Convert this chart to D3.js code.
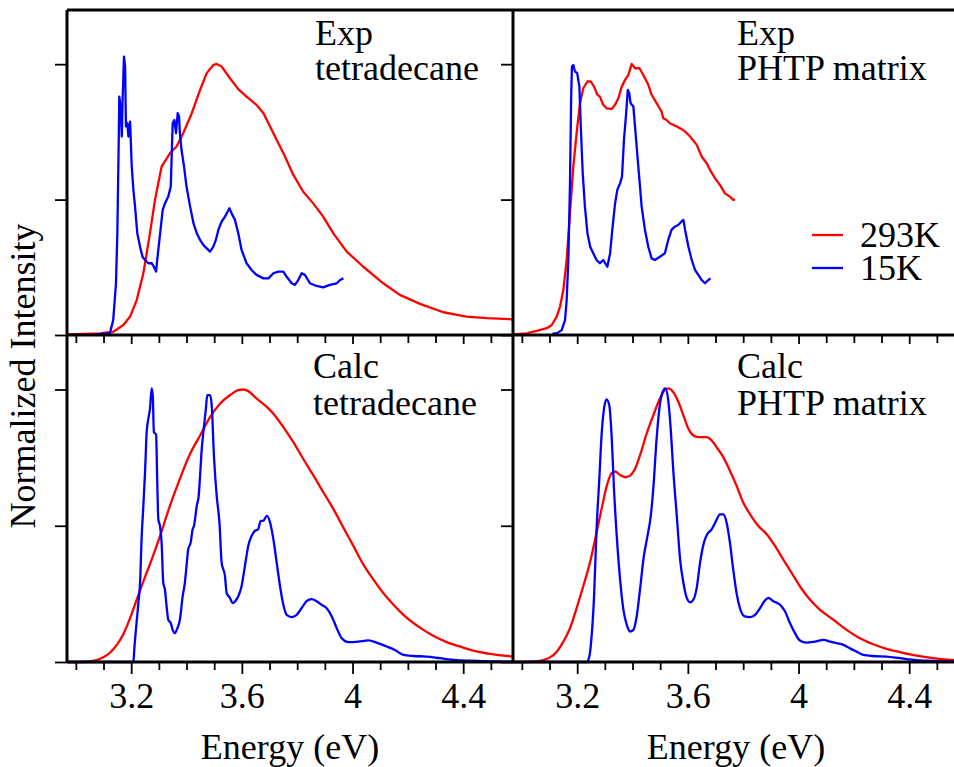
<!DOCTYPE html>
<html>
<head>
<meta charset="utf-8">
<script src="https://cdn.jsdelivr.net/npm/d3@7"></script>
<style>
  html, body { margin: 0; padding: 0; background: #fff; }
  svg { display: block; }
</style>
</head>
<body>
<svg id="chart" width="954" height="767"></svg>
<script>
// ---------------- DATA (energy eV, normalized intensity) ----------------
const xTickValues = [3.2, 3.6, 4.0, 4.4];
const xTickLabels = ["3.2", "3.6", "4", "4.4"];
const xMinorTicks = [3.0,3.1,3.3,3.4,3.5,3.7,3.8,3.9,4.1,4.2,4.3,4.5];
const yTickValues = [0, 0.5, 1.0];
const seriesNames = ["293K", "15K"];
const seriesColors = ["#ff0000", "#0000ff"];
const panelTitles = [["Exp","tetradecane"],["Exp","PHTP matrix"],["Calc","tetradecane"],["Calc","PHTP matrix"]];

const expTet293 = [[2.970,0.002],[3.087,0.006],[3.135,0.012],[3.172,0.037],[3.196,0.068],[3.220,0.129],[3.244,0.228],[3.268,0.376],[3.286,0.499],[3.310,0.622],[3.340,0.671],[3.364,0.696],[3.388,0.745],[3.419,0.819],[3.449,0.905],[3.473,0.967],[3.497,0.997],[3.509,1.001],[3.527,0.991],[3.557,0.948],[3.587,0.908],[3.617,0.880],[3.653,0.850],[3.678,0.819],[3.702,0.770],[3.726,0.720],[3.756,0.659],[3.786,0.591],[3.822,0.529],[3.858,0.486],[3.894,0.437],[3.930,0.376],[3.979,0.308],[4.039,0.252],[4.111,0.191],[4.171,0.148],[4.244,0.115],[4.328,0.084],[4.412,0.068],[4.485,0.062],[4.581,0.058]];

const expTet15 = [[3.069,0.002],[3.123,0.006],[3.135,0.055],[3.145,0.191],[3.150,0.376],[3.155,0.720],[3.157,0.880],[3.162,0.844],[3.166,0.733],[3.169,0.868],[3.174,1.028],[3.178,0.991],[3.181,0.770],[3.186,0.782],[3.190,0.733],[3.196,0.788],[3.202,0.622],[3.208,0.536],[3.214,0.474],[3.222,0.376],[3.232,0.326],[3.241,0.289],[3.250,0.277],[3.262,0.265],[3.274,0.265],[3.282,0.252],[3.290,0.234],[3.294,0.277],[3.302,0.351],[3.314,0.462],[3.322,0.486],[3.334,0.511],[3.343,0.548],[3.350,0.782],[3.356,0.794],[3.362,0.745],[3.368,0.819],[3.373,0.807],[3.376,0.745],[3.382,0.683],[3.391,0.622],[3.400,0.548],[3.413,0.474],[3.425,0.413],[3.437,0.376],[3.449,0.351],[3.461,0.332],[3.473,0.320],[3.485,0.308],[3.497,0.326],[3.506,0.351],[3.515,0.388],[3.527,0.419],[3.539,0.437],[3.555,0.468],[3.563,0.449],[3.575,0.425],[3.587,0.376],[3.599,0.314],[3.617,0.265],[3.635,0.240],[3.653,0.222],[3.678,0.209],[3.696,0.209],[3.714,0.228],[3.732,0.234],[3.750,0.234],[3.762,0.215],[3.780,0.191],[3.792,0.185],[3.804,0.203],[3.816,0.228],[3.828,0.222],[3.846,0.191],[3.870,0.181],[3.894,0.176],[3.918,0.185],[3.943,0.191],[3.955,0.203],[3.967,0.209]];

const expPhtp293 = [[2.969,0.002],[3.017,0.006],[3.054,0.015],[3.090,0.025],[3.108,0.037],[3.126,0.068],[3.138,0.105],[3.150,0.166],[3.162,0.277],[3.174,0.449],[3.186,0.622],[3.198,0.745],[3.210,0.856],[3.222,0.911],[3.237,0.936],[3.249,0.936],[3.261,0.917],[3.273,0.887],[3.282,0.880],[3.294,0.850],[3.307,0.837],[3.325,0.835],[3.337,0.850],[3.349,0.874],[3.361,0.917],[3.373,0.942],[3.385,0.960],[3.397,1.001],[3.409,0.985],[3.425,0.985],[3.439,0.960],[3.457,0.924],[3.469,0.887],[3.487,0.856],[3.505,0.825],[3.511,0.800],[3.523,0.794],[3.535,0.782],[3.547,0.776],[3.560,0.770],[3.578,0.760],[3.590,0.751],[3.608,0.733],[3.632,0.702],[3.650,0.659],[3.668,0.634],[3.680,0.610],[3.698,0.579],[3.716,0.554],[3.734,0.523],[3.752,0.511],[3.764,0.499],[3.770,0.501]];

const expPhtp15 = [[3.111,0.006],[3.126,0.006],[3.144,0.018],[3.156,0.055],[3.162,0.129],[3.168,0.277],[3.174,0.560],[3.178,0.868],[3.181,0.991],[3.186,0.997],[3.192,0.973],[3.200,0.967],[3.208,0.917],[3.213,0.770],[3.220,0.597],[3.228,0.474],[3.237,0.376],[3.247,0.326],[3.258,0.302],[3.270,0.277],[3.282,0.265],[3.294,0.277],[3.309,0.252],[3.319,0.302],[3.328,0.400],[3.337,0.486],[3.345,0.536],[3.355,0.560],[3.362,0.585],[3.369,0.720],[3.377,0.819],[3.383,0.905],[3.388,0.893],[3.393,0.856],[3.403,0.844],[3.409,0.770],[3.421,0.622],[3.433,0.474],[3.445,0.388],[3.457,0.326],[3.469,0.283],[3.481,0.277],[3.499,0.289],[3.517,0.302],[3.529,0.351],[3.541,0.388],[3.553,0.400],[3.565,0.406],[3.577,0.419],[3.584,0.425],[3.590,0.388],[3.602,0.326],[3.614,0.277],[3.626,0.240],[3.638,0.222],[3.650,0.203],[3.662,0.191],[3.674,0.203],[3.682,0.209]];

const calcTet293 = [[2.970,0.000],[3.039,0.001],[3.075,0.007],[3.099,0.017],[3.123,0.034],[3.148,0.063],[3.172,0.103],[3.196,0.161],[3.220,0.229],[3.244,0.296],[3.274,0.376],[3.304,0.462],[3.340,0.573],[3.376,0.672],[3.413,0.764],[3.449,0.831],[3.485,0.899],[3.521,0.948],[3.557,0.979],[3.587,0.998],[3.605,1.000],[3.623,0.994],[3.653,0.967],[3.690,0.936],[3.714,0.911],[3.750,0.862],[3.786,0.807],[3.822,0.745],[3.859,0.684],[3.895,0.622],[3.931,0.561],[3.967,0.493],[4.003,0.426],[4.039,0.358],[4.075,0.303],[4.111,0.253],[4.148,0.210],[4.184,0.173],[4.220,0.143],[4.256,0.118],[4.292,0.096],[4.340,0.073],[4.388,0.057],[4.436,0.042],[4.497,0.030],[4.581,0.020]];

const calcTet15 = [[2.969,0.000],[3.208,0.000],[3.211,0.044],[3.217,0.118],[3.226,0.216],[3.232,0.290],[3.238,0.462],[3.244,0.573],[3.250,0.696],[3.256,0.844],[3.262,0.893],[3.268,0.930],[3.274,1.004],[3.278,0.979],[3.282,0.844],[3.290,0.834],[3.294,0.672],[3.298,0.524],[3.304,0.499],[3.310,0.438],[3.316,0.290],[3.322,0.266],[3.328,0.204],[3.334,0.155],[3.343,0.143],[3.350,0.118],[3.358,0.106],[3.367,0.124],[3.376,0.155],[3.386,0.241],[3.394,0.290],[3.400,0.352],[3.406,0.413],[3.415,0.438],[3.422,0.487],[3.427,0.499],[3.437,0.573],[3.444,0.610],[3.449,0.684],[3.455,0.782],[3.461,0.844],[3.470,0.930],[3.475,0.979],[3.485,0.979],[3.491,0.942],[3.499,0.758],[3.509,0.610],[3.519,0.512],[3.527,0.364],[3.539,0.315],[3.545,0.253],[3.557,0.235],[3.567,0.216],[3.576,0.223],[3.587,0.241],[3.599,0.278],[3.611,0.352],[3.623,0.426],[3.635,0.462],[3.647,0.481],[3.659,0.487],[3.668,0.518],[3.677,0.518],[3.690,0.536],[3.702,0.512],[3.714,0.450],[3.726,0.364],[3.738,0.278],[3.750,0.210],[3.762,0.173],[3.780,0.165],[3.798,0.173],[3.816,0.198],[3.834,0.223],[3.852,0.231],[3.870,0.223],[3.888,0.210],[3.906,0.198],[3.925,0.167],[3.943,0.124],[3.961,0.087],[3.985,0.073],[4.021,0.075],[4.057,0.079],[4.087,0.071],[4.123,0.057],[4.153,0.044],[4.184,0.026],[4.220,0.022],[4.268,0.020],[4.316,0.014],[4.376,0.007],[4.449,0.004],[4.581,0.001]];

const calcPhtp293 = [[2.969,0.000],[3.041,0.001],[3.078,0.007],[3.102,0.017],[3.126,0.038],[3.150,0.075],[3.174,0.124],[3.198,0.198],[3.222,0.278],[3.246,0.364],[3.270,0.475],[3.288,0.561],[3.307,0.647],[3.325,0.694],[3.337,0.699],[3.355,0.686],[3.373,0.678],[3.391,0.684],[3.409,0.708],[3.427,0.758],[3.451,0.838],[3.475,0.905],[3.499,0.967],[3.517,0.998],[3.529,1.004],[3.547,0.991],[3.566,0.954],[3.584,0.905],[3.602,0.856],[3.620,0.831],[3.638,0.825],[3.668,0.825],[3.686,0.813],[3.704,0.788],[3.728,0.752],[3.752,0.702],[3.776,0.647],[3.800,0.585],[3.825,0.542],[3.855,0.499],[3.885,0.469],[3.915,0.426],[3.945,0.376],[3.975,0.327],[4.005,0.278],[4.041,0.229],[4.077,0.192],[4.126,0.155],[4.174,0.118],[4.222,0.087],[4.270,0.065],[4.318,0.048],[4.367,0.036],[4.427,0.023],[4.487,0.014],[4.562,0.007]];

const calcPhtp15 = [[2.969,0.000],[3.234,0.000],[3.244,0.020],[3.252,0.093],[3.261,0.241],[3.270,0.487],[3.280,0.672],[3.288,0.831],[3.297,0.930],[3.306,0.964],[3.316,0.942],[3.325,0.819],[3.333,0.635],[3.343,0.462],[3.355,0.303],[3.367,0.192],[3.379,0.137],[3.391,0.112],[3.403,0.118],[3.415,0.167],[3.427,0.266],[3.441,0.389],[3.454,0.462],[3.466,0.536],[3.475,0.635],[3.487,0.819],[3.497,0.930],[3.509,0.991],[3.519,1.004],[3.529,0.961],[3.538,0.856],[3.547,0.708],[3.560,0.536],[3.572,0.376],[3.584,0.290],[3.596,0.235],[3.608,0.219],[3.620,0.229],[3.632,0.272],[3.644,0.364],[3.658,0.438],[3.670,0.469],[3.686,0.487],[3.702,0.518],[3.716,0.542],[3.728,0.542],[3.740,0.512],[3.752,0.438],[3.764,0.339],[3.776,0.253],[3.788,0.198],[3.806,0.167],[3.825,0.165],[3.843,0.173],[3.861,0.198],[3.879,0.226],[3.891,0.235],[3.909,0.223],[3.933,0.210],[3.951,0.186],[3.969,0.143],[3.987,0.106],[4.005,0.079],[4.029,0.071],[4.059,0.075],[4.090,0.081],[4.114,0.075],[4.138,0.069],[4.162,0.063],[4.186,0.050],[4.210,0.038],[4.234,0.026],[4.270,0.022],[4.318,0.020],[4.367,0.014],[4.427,0.007],[4.487,0.004],[4.562,0.001]];

// ---------------- LAYOUT ----------------
const svg = d3.select("#chart");
const FONT = '"Liberation Serif"';
const xDomain = [2.968, 4.580];
const yDomain = [0, 1.2];
const colX = [67, 513];
const panelW = 446;
const rowY = [[10, 335], [335, 662]];
const fontSize = 36;

const panels = [
  { col: 0, row: 0, data: [expTet293, expTet15], smooth: false, title: panelTitles[0], tx: 315, ty: [45, 80] },
  { col: 1, row: 0, data: [expPhtp293, expPhtp15], smooth: false, title: panelTitles[1], tx: 737, ty: [45, 80] },
  { col: 0, row: 1, data: [calcTet293, calcTet15], smooth: true, title: panelTitles[2], tx: 313, ty: [378, 415] },
  { col: 1, row: 1, data: [calcPhtp293, calcPhtp15], smooth: true, title: panelTitles[3], tx: 737, ty: [378, 415] }
];

function txt(sel) {
  return sel.style("font-family", FONT).style("font-size", fontSize + "px").attr("fill", "#000");
}

panels.forEach(p => {
  const x = d3.scaleLinear().domain(xDomain).range([colX[p.col], colX[p.col] + panelW]);
  const y = d3.scaleLinear().domain(yDomain).range([rowY[p.row][1], rowY[p.row][0]]);
  const g = svg.append("g");

  const line = d3.line().x(d => x(d[0])).y(d => y(d[1]))
    .curve(p.smooth ? d3.curveMonotoneX : d3.curveLinear);
  p.data.forEach((s, i) => {
    g.append("path").datum(s).attr("d", line)
      .attr("fill", "none").attr("stroke", seriesColors[i])
      .attr("stroke-width", 2.3).attr("stroke-linejoin", "round");
  });

  const yAxis = d3.axisLeft(y).tickValues(yTickValues).tickSize(12).tickFormat("");
  const ya = g.append("g").attr("transform", `translate(${colX[p.col]},0)`).call(yAxis);
  ya.select(".domain").remove();
  ya.selectAll("line").attr("stroke", "#000").attr("stroke-width", 1.8);

  const base = rowY[p.row][1];
  const minorAxis = d3.axisBottom(x).tickValues(xMinorTicks).tickSize(8).tickFormat("");
  const xm = g.append("g").attr("transform", `translate(0,${base})`).call(minorAxis);
  xm.select(".domain").remove();
  xm.selectAll("line").attr("stroke", "#000").attr("stroke-width", 1.8);

  const majorAxis = d3.axisBottom(x).tickValues(xTickValues).tickSize(p.row === 1 ? 12 : 9).tickPadding(8)
    .tickFormat((d, i) => p.row === 1 ? xTickLabels[i] : "");
  const xM = g.append("g").attr("transform", `translate(0,${base})`).call(majorAxis);
  xM.select(".domain").remove();
  xM.selectAll("line").attr("stroke", "#000").attr("stroke-width", 1.8);
  txt(xM.selectAll("text"));

  p.title.forEach((t, i) => {
    txt(g.append("text").attr("x", p.tx).attr("y", p.ty[i])).text(t);
  });

  if (p.row === 1) {
    txt(g.append("text").attr("x", colX[p.col] + panelW / 2).attr("y", 759)
      .attr("text-anchor", "middle")).text("Energy (eV)");
  }
});

const frame = svg.append("g").attr("stroke", "#000").attr("stroke-width", 3).attr("fill", "none");
frame.append("line").attr("x1", 67).attr("x2", 954).attr("y1", 10).attr("y2", 10);
frame.append("line").attr("x1", 67).attr("x2", 954).attr("y1", 335).attr("y2", 335);
frame.append("line").attr("x1", 67).attr("x2", 954).attr("y1", 662).attr("y2", 662);
frame.append("line").attr("x1", 67).attr("x2", 67).attr("y1", 10).attr("y2", 662);
frame.append("line").attr("x1", 513).attr("x2", 513).attr("y1", 10).attr("y2", 662);

txt(svg.append("text").attr("transform", "translate(35,376) rotate(-90)")
  .attr("text-anchor", "middle")).text("Normalized Intensity");

const legend = svg.append("g");
seriesNames.forEach((n, i) => {
  const ly = [235, 268][i];
  legend.append("line").attr("x1", 812).attr("x2", 843).attr("y1", ly).attr("y2", ly)
    .attr("stroke", seriesColors[i]).attr("stroke-width", 2.3);
  txt(legend.append("text").attr("x", 860).attr("y", ly + 12)).text(n);
});
</script>
</body>
</html>
